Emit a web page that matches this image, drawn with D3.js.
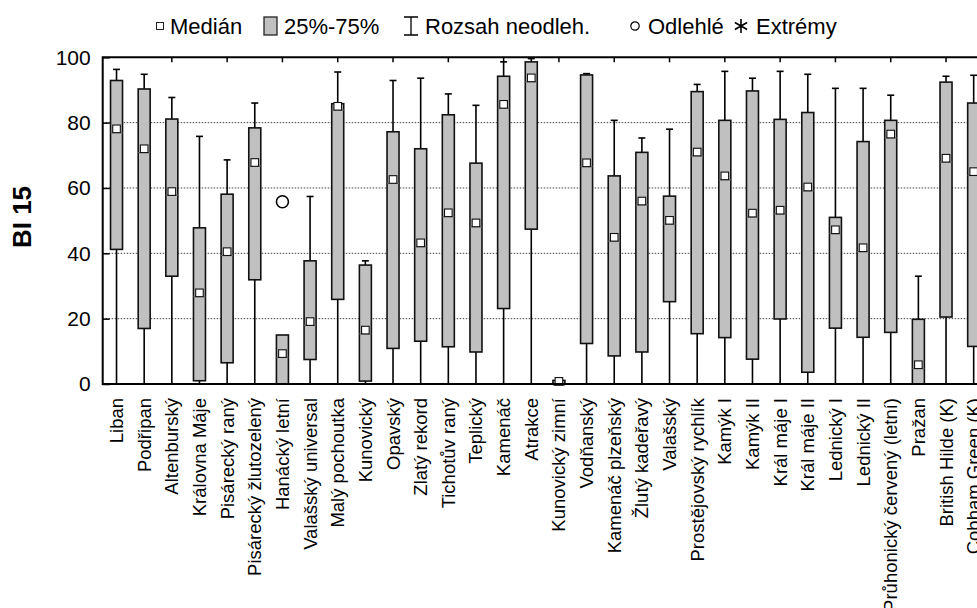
<!DOCTYPE html>
<html>
<head>
<meta charset="utf-8">
<script src="https://cdn.jsdelivr.net/npm/d3@7"></script>
<style>
  body { margin: 0; background: #fff; }
  svg { display: block; font-family: "Liberation Sans", Arial, sans-serif; }
</style>
</head>
<body>
<div id="graf"></div>
<script>
// Odrůdy (kategorie na ose X)
var odrudy = ["Liban", "Podřipan", "Altenburský", "Královna Máje", "Pisárecký raný",
  "Pisárecký žlutozelený", "Hanácký letní", "Valašský universal", "Malý pochoutka",
  "Kunovický", "Opavský", "Zlatý rekord", "Tichotův raný", "Teplický", "Kamenáč",
  "Atrakce", "Kunovický zimní", "Vodňanský", "Kamenáč plzeňský", "Žlutý kadeřavý",
  "Valašský", "Prostějovský rychlík", "Kamýk I", "Kamýk II", "Král máje I",
  "Král máje II", "Lednický I", "Lednický II", "Průhonický červený (letní)", "Pražan",
  "British Hilde (K)", "Cobham Green (K)"];

// Hodnoty BI 15
var minima   = [0, 0, 0, 0, 0, 0, 0, 0, 0, 0, 0, 0, 0, 0, 0, 0, 0, 0, 0, 0, 0, 0, 0, 0, 0, 0, 0, 0, 0, 0, 0, 0];
var kvartil1 = [41.2, 17.0, 33.0, 1.0, 6.5, 31.9, 0, 7.5, 25.9, 0.9, 10.9, 13.1, 11.4, 9.8, 23.1, 47.4,
  0, 12.4, 8.6, 9.8, 25.2, 15.4, 14.2, 7.6, 19.9, 3.6, 17.1, 14.3, 15.8, 0, 20.5, 11.5];
var mediany  = [78.1, 72.0, 58.9, 27.9, 40.5, 67.8, 9.3, 19.1, 85.0, 16.5, 62.6, 43.2, 52.4, 49.3, 85.6, 93.7,
  0.8, 67.7, 44.9, 56.0, 50.1, 71.0, 63.7, 52.3, 53.2, 60.3, 47.2, 41.7, 76.5, 5.9, 69.1, 65.0];
var kvartil3 = [92.9, 90.3, 81.1, 47.8, 58.1, 78.4, 15.0, 37.7, 85.8, 36.4, 77.2, 72.0, 82.4, 67.6, 94.2, 98.6,
  1.1, 94.6, 63.7, 70.9, 57.5, 89.5, 80.7, 89.7, 81.0, 83.1, 51.0, 74.2, 80.7, 19.8, 92.4, 86.0];
var maxima   = [96.3, 94.8, 87.7, 75.8, 68.6, 86.0, 15.0, 57.4, 95.5, 37.7, 92.9, 93.6, 88.8, 85.3, 98.6, 99.6,
  1.6, 95.0, 80.7, 75.3, 78.0, 91.7, 95.7, 93.6, 95.7, 94.8, 90.5, 90.5, 88.4, 33.0, 94.2, 94.5];

// Odlehlé body
var odlehle = [{ odruda: "Hanácký letní", hodnota: 55.8 }];

var yTicks = [0, 20, 40, 60, 80, 100];
var mrizka = [20, 40, 60, 80];

// Plátno
var svgWidth = 977, svgHeight = 608;
var levo = 102.7, nahore = 57.3, dole = 384;
var krok = 27.65;

var svg = d3.select("#graf")
  .append("svg")
  .attr("width", svgWidth)
  .attr("height", svgHeight);

var xScale = d3.scaleBand()
  .domain(odrudy)
  .range([levo, levo + krok * odrudy.length])
  .padding(0);

var yScale = d3.scaleLinear()
  .domain([0, 100])
  .range([dole, nahore]);

var stred = function(d) { return xScale(d) + xScale.bandwidth() / 2; };
var pravo = levo + krok * odrudy.length + 20;

// Mřížka
svg.append("g")
  .selectAll("line")
  .data(mrizka)
  .join("line")
    .attr("x1", levo)
    .attr("x2", pravo)
    .attr("y1", function(d) { return yScale(d); })
    .attr("y2", function(d) { return yScale(d); })
    .attr("stroke", "#444")
    .attr("stroke-width", 1)
    .attr("stroke-dasharray", "1.5,1.5");

// Krabice
var data = odrudy.map(function(o, i) {
  return { odruda: o, min: minima[i], q1: kvartil1[i], med: mediany[i], q3: kvartil3[i], max: maxima[i] };
});

var g = svg.append("g");
var sirka = 12;

// Vousy
g.selectAll(".vous")
  .data(data)
  .join("line")
    .attr("class", "vous")
    .attr("x1", function(d) { return stred(d.odruda); })
    .attr("x2", function(d) { return stred(d.odruda); })
    .attr("y1", function(d) { return yScale(d.min); })
    .attr("y2", function(d) { return yScale(d.max); })
    .attr("stroke", "#000")
    .attr("stroke-width", 1.6);

g.selectAll(".cap")
  .data(data.filter(function(d) { return d.max > d.q3; }))
  .join("line")
    .attr("class", "cap")
    .attr("x1", function(d) { return stred(d.odruda) - 3.5; })
    .attr("x2", function(d) { return stred(d.odruda) + 3.5; })
    .attr("y1", function(d) { return yScale(d.max); })
    .attr("y2", function(d) { return yScale(d.max); })
    .attr("stroke", "#000")
    .attr("stroke-width", 1.6);

g.selectAll(".box")
  .data(data)
  .join("rect")
    .attr("class", "box")
    .attr("x", function(d) { return stred(d.odruda) - sirka / 2; })
    .attr("width", sirka)
    .attr("y", function(d) { return yScale(d.q3); })
    .attr("height", function(d) { return yScale(d.q1) - yScale(d.q3); })
    .attr("fill", "#c0c0c0")
    .attr("stroke", "#111")
    .attr("stroke-width", 1.6);

// Linka mediánu
g.selectAll(".medline")
  .data(data)
  .join("line")
    .attr("class", "medline")
    .attr("x1", function(d) { return stred(d.odruda) - sirka / 2; })
    .attr("x2", function(d) { return stred(d.odruda) + sirka / 2; })
    .attr("y1", function(d) { return yScale(d.med) + 3.8; })
    .attr("y2", function(d) { return yScale(d.med) + 3.8; })
    .attr("stroke", "#666")
    .attr("stroke-width", 1.2);

// Medián (čtvereček)
g.selectAll(".med")
  .data(data)
  .join("rect")
    .attr("class", "med")
    .attr("x", function(d) { return stred(d.odruda) - 3.8; })
    .attr("y", function(d) { return yScale(d.med) - 3.8; })
    .attr("width", 7.6)
    .attr("height", 7.6)
    .attr("fill", "#fff")
    .attr("stroke", "#111")
    .attr("stroke-width", 1.1);

// Odlehlé
g.selectAll(".odl")
  .data(odlehle)
  .join("circle")
    .attr("class", "odl")
    .attr("cx", function(d) { return stred(d.odruda); })
    .attr("cy", function(d) { return yScale(d.hodnota); })
    .attr("r", 6)
    .attr("fill", "#fff")
    .attr("stroke", "#000")
    .attr("stroke-width", 1.6);

// Rámeček os
svg.append("path")
  .attr("d", "M" + pravo + "," + nahore + "H" + levo + "V" + dole + "H" + pravo)
  .attr("fill", "none")
  .attr("stroke", "#000")
  .attr("stroke-width", 2);

// Osa Y
var osaY = svg.append("g")
  .attr("transform", "translate(" + levo + ",0)")
  .call(d3.axisLeft(yScale).tickValues(yTicks).tickSize(-7).tickPadding(12).tickFormat(d3.format("d")));
osaY.select(".domain").remove();
osaY.selectAll("line").attr("stroke", "#000").attr("stroke-width", 1.5);
osaY.selectAll("text")
  .style("font-size", "21px")
  .style("font-family", "\"Liberation Sans\", Arial, sans-serif")
  .attr("fill", "#000");

// Horní značky (každá druhá odrůda)
svg.append("g")
  .selectAll("line")
  .data(odrudy.filter(function(d, i) { return i % 2 === 0 && i > 0; }))
  .join("line")
    .attr("x1", stred)
    .attr("x2", stred)
    .attr("y1", nahore)
    .attr("y2", nahore + 5)
    .attr("stroke", "#000")
    .attr("stroke-width", 1.5);

// Popisky odrůd
svg.append("g")
  .selectAll("text")
  .data(odrudy)
  .join("text")
    .attr("transform", function(d) { return "translate(" + stred(d) + "," + 398 + ") rotate(-90)"; })
    .attr("dy", "0.35em")
    .attr("text-anchor", "end")
    .style("font-size", "18.5px")
    .text(function(d) { return d; });

// Název osy Y
svg.append("text")
  .attr("transform", "translate(22," + 217 + ") rotate(-90)")
  .attr("dy", "0.35em")
  .attr("text-anchor", "middle")
  .style("font-size", "26px")
  .style("font-weight", "bold")
  .text("BI 15");

// Legenda
var leg = svg.append("g").attr("transform", "translate(0,26)");
var fs = "22px";

leg.append("rect").attr("x", 156.5).attr("y", -3.5).attr("width", 7).attr("height", 7)
  .attr("fill", "#fff").attr("stroke", "#222").attr("stroke-width", 1);
leg.append("text").attr("x", 170).attr("dy", "0.36em").style("font-size", fs).text("Medián");

leg.append("rect").attr("x", 264).attr("y", -9).attr("width", 13).attr("height", 18)
  .attr("fill", "#c0c0c0").attr("stroke", "#222").attr("stroke-width", 1.3);
leg.append("text").attr("x", 284).attr("dy", "0.36em").style("font-size", fs).text("25%-75%");

leg.append("path").attr("d", "M404,-9H418M411,-9V9M404,9H418")
  .attr("fill", "none").attr("stroke", "#000").attr("stroke-width", 1.3);
leg.append("text").attr("x", 425).attr("dy", "0.36em").style("font-size", fs).text("Rozsah neodleh.");

leg.append("circle").attr("cx", 635).attr("cy", 0).attr("r", 4.2)
  .attr("fill", "#fff").attr("stroke", "#000").attr("stroke-width", 1.2);
leg.append("text").attr("x", 648).attr("dy", "0.36em").style("font-size", fs).text("Odlehlé");

leg.append("path").attr("d", "M741,-7V7M734.9,-3.5L747.1,3.5M734.9,3.5L747.1,-3.5")
  .attr("fill", "none").attr("stroke", "#000").attr("stroke-width", 1.6);
leg.append("text").attr("x", 756).attr("dy", "0.36em").style("font-size", fs).text("Extrémy");
</script>
</body>
</html>
